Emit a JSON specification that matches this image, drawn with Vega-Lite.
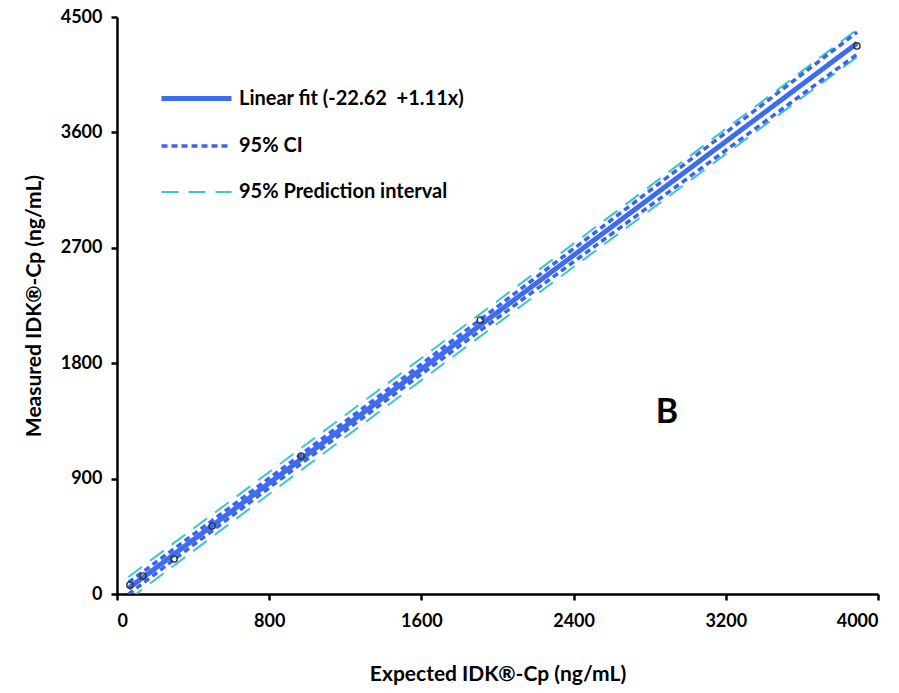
{
  "$schema": "https://vega.github.io/schema/vega-lite/v6.json",
  "width": 761,
  "height": 577,
  "autosize": {"type": "none"},
  "padding": {"left": 117, "top": 17, "right": 21, "bottom": 99},
  "background": "white",
  "config": {
    "font": "Lato",
    "view": {"stroke": null},
    "axis": {"grid": false, "domainColor": "black", "domainWidth": 2.5, "tickColor": "black", "tickWidth": 2.5, "tickSize": 6, "labelFont": "Lato", "labelFontSize": 18, "labelFontWeight": "bold", "labelColor": "black", "titleFont": "Lato", "titleFontSize": 21, "titleFontWeight": "bold", "titleColor": "black", "format": "d"},
    "legend": {"orient": "none", "legendX": 42, "legendY": 44, "symbolType": "stroke", "symbolSize": 4900, "labelFont": "Lato", "labelFontSize": 20, "labelFontWeight": "bold", "labelColor": "black", "labelLimit": 400, "rowPadding": -30, "labelOffset": 5, "title": null, "padding": 0}
  },
  "datasets": {
    "lines": [
      {"x": 60, "y": 44.0, "series": "Linear fit (-22.62\u00a0 +1.11x)", "side": "mid"},
      {"x": 3890, "y": 4295.3, "series": "Linear fit (-22.62\u00a0 +1.11x)", "side": "mid"},
      {"x": 60, "y": 90.0, "series": "95% CI", "side": "upper"},
      {"x": 300, "y": 352.4, "series": "95% CI", "side": "upper"},
      {"x": 600, "y": 682.4, "series": "95% CI", "side": "upper"},
      {"x": 1000, "y": 1123.4, "series": "95% CI", "side": "upper"},
      {"x": 1500, "y": 1680.4, "series": "95% CI", "side": "upper"},
      {"x": 2000, "y": 2241.4, "series": "95% CI", "side": "upper"},
      {"x": 2500, "y": 2805.4, "series": "95% CI", "side": "upper"},
      {"x": 3000, "y": 3371.4, "series": "95% CI", "side": "upper"},
      {"x": 3500, "y": 3938.4, "series": "95% CI", "side": "upper"},
      {"x": 3890, "y": 4381.3, "series": "95% CI", "side": "upper"},
      {"x": 60, "y": -2.0, "series": "95% CI", "side": "lower"},
      {"x": 300, "y": 268.4, "series": "95% CI", "side": "lower"},
      {"x": 600, "y": 604.4, "series": "95% CI", "side": "lower"},
      {"x": 1000, "y": 1051.4, "series": "95% CI", "side": "lower"},
      {"x": 1500, "y": 1604.4, "series": "95% CI", "side": "lower"},
      {"x": 2000, "y": 2153.4, "series": "95% CI", "side": "lower"},
      {"x": 2500, "y": 2699.4, "series": "95% CI", "side": "lower"},
      {"x": 3000, "y": 3243.4, "series": "95% CI", "side": "lower"},
      {"x": 3500, "y": 3786.4, "series": "95% CI", "side": "lower"},
      {"x": 3890, "y": 4209.3, "series": "95% CI", "side": "lower"},
      {"x": 60, "y": 133.0, "series": "95% Prediction interval", "side": "upper"},
      {"x": 300, "y": 398.4, "series": "95% Prediction interval", "side": "upper"},
      {"x": 600, "y": 729.4, "series": "95% Prediction interval", "side": "upper"},
      {"x": 1000, "y": 1173.4, "series": "95% Prediction interval", "side": "upper"},
      {"x": 1500, "y": 1728.4, "series": "95% Prediction interval", "side": "upper"},
      {"x": 2000, "y": 2285.4, "series": "95% Prediction interval", "side": "upper"},
      {"x": 2500, "y": 2844.4, "series": "95% Prediction interval", "side": "upper"},
      {"x": 3000, "y": 3403.4, "series": "95% Prediction interval", "side": "upper"},
      {"x": 3500, "y": 3964.4, "series": "95% Prediction interval", "side": "upper"},
      {"x": 3890, "y": 4402.3, "series": "95% Prediction interval", "side": "upper"},
      {"x": 60, "y": -45.0, "series": "95% Prediction interval", "side": "lower"},
      {"x": 300, "y": 222.4, "series": "95% Prediction interval", "side": "lower"},
      {"x": 600, "y": 557.4, "series": "95% Prediction interval", "side": "lower"},
      {"x": 1000, "y": 1001.4, "series": "95% Prediction interval", "side": "lower"},
      {"x": 1500, "y": 1556.4, "series": "95% Prediction interval", "side": "lower"},
      {"x": 2000, "y": 2109.4, "series": "95% Prediction interval", "side": "lower"},
      {"x": 2500, "y": 2660.4, "series": "95% Prediction interval", "side": "lower"},
      {"x": 3000, "y": 3211.4, "series": "95% Prediction interval", "side": "lower"},
      {"x": 3500, "y": 3760.4, "series": "95% Prediction interval", "side": "lower"},
      {"x": 3890, "y": 4188.3, "series": "95% Prediction interval", "side": "lower"}
    ],
    "points": [
      {"expected": 68, "measured": 70},
      {"expected": 137, "measured": 140},
      {"expected": 300, "measured": 273},
      {"expected": 500, "measured": 530},
      {"expected": 968, "measured": 1076},
      {"expected": 1910, "measured": 2137},
      {"expected": 3889, "measured": 4274}
    ],
    "annot": [{"x": 2890, "y": 1410, "label": "B"}]
  },
  "layer": [
    {
      "data": {"name": "lines"},
      "transform": [{"filter": "datum.series == '95% Prediction interval'"}],
      "mark": {"type": "line", "clip": true},
      "encoding": {
        "x": {"field": "x", "type": "quantitative", "scale": {"domain": [0, 4000], "nice": false}, "axis": {"values": [0, 800, 1600, 2400, 3200, 4000], "title": "Expected IDK\u00ae-Cp (ng/mL)", "labelPadding": 12, "titlePadding": 33}},
        "y": {"field": "y", "type": "quantitative", "scale": {"domain": [0, 4500], "nice": false}, "axis": {"values": [0, 900, 1800, 2700, 3600, 4500], "title": "Measured IDK\u00ae-Cp (ng/mL)", "labelPadding": 9, "titlePadding": 16}},
        "detail": {"field": "side"},
        "color": {"field": "series", "type": "nominal", "scale": {"domain": ["Linear fit (-22.62\u00a0 +1.11x)", "95% CI", "95% Prediction interval"], "range": ["#3d6cf0", "#3b63ee", "#3cc6cc"]}},
        "strokeDash": {"field": "series", "type": "nominal", "scale": {"domain": ["Linear fit (-22.62\u00a0 +1.11x)", "95% CI", "95% Prediction interval"], "range": [[1, 0], [6, 4], [17, 10]]}},
        "strokeWidth": {"field": "series", "type": "ordinal", "scale": {"domain": ["Linear fit (-22.62\u00a0 +1.11x)", "95% CI", "95% Prediction interval"], "range": [5, 2, 2.5]}}
      }
    },
    {
      "data": {"name": "lines"},
      "transform": [{"filter": "datum.series == '95% CI'"}],
      "mark": {"type": "line", "clip": true},
      "encoding": {
        "x": {"field": "x", "type": "quantitative"},
        "y": {"field": "y", "type": "quantitative"},
        "detail": {"field": "side"},
        "color": {"field": "series", "type": "nominal"},
        "strokeDash": {"field": "series", "type": "nominal"},
        "strokeWidth": {"field": "series", "type": "ordinal"}
      }
    },
    {
      "data": {"name": "lines"},
      "transform": [{"filter": "datum.side == 'mid'"}],
      "mark": {"type": "line", "clip": true},
      "encoding": {
        "x": {"field": "x", "type": "quantitative"},
        "y": {"field": "y", "type": "quantitative"},
        "color": {"field": "series", "type": "nominal"},
        "strokeDash": {"field": "series", "type": "nominal"},
        "strokeWidth": {"field": "series", "type": "ordinal"}
      }
    },
    {
      "data": {"name": "points"},
      "mark": {"type": "point", "filled": false, "stroke": "#333333", "strokeWidth": 1.4, "size": 40, "opacity": 1},
      "encoding": {
        "x": {"field": "expected", "type": "quantitative"},
        "y": {"field": "measured", "type": "quantitative"}
      }
    },
    {
      "data": {"name": "annot"},
      "mark": {"type": "text", "font": "Lato", "fontSize": 34, "fontWeight": "bold", "color": "black"},
      "encoding": {
        "x": {"field": "x", "type": "quantitative"},
        "y": {"field": "y", "type": "quantitative"},
        "text": {"field": "label"}
      }
    }
  ]
}
